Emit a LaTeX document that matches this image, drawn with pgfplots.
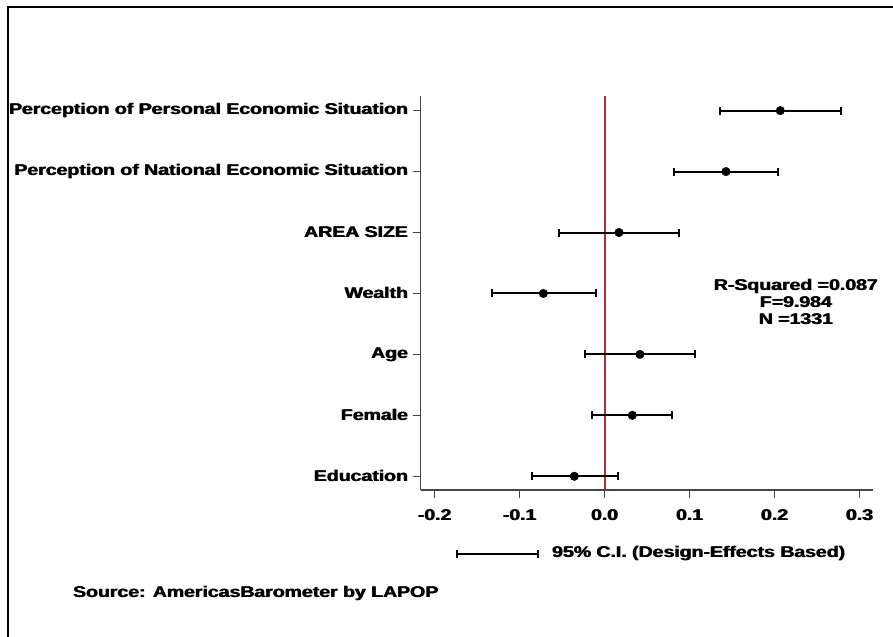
\documentclass[border=0pt]{standalone}
\usepackage{fontspec}
\setmainfont{Liberation Sans}[UprightFont={* Bold}, BoldFont={* Bold}, FakeStretch=1.26]
\usepackage{pgfplots}
\pgfplotsset{compat=1.18}
\usepackage{pgfplotstable}

\definecolor{zeroline}{RGB}{168,50,50}
\definecolor{spine}{RGB}{70,70,70}

% heavier text: the same text twice, a hair apart
\newcommand\hv[1]{\leavevmode\rlap{#1}\kern0.8bp#1}

% coefficients
\pgfplotstableread{
y  b
7  0.2066
6  0.1427
5  0.0168
4  -0.0722
3  0.0415
2  0.0325
1  -0.0357
}\coefs

% 95% CI, one segment per row, split by nan
\pgfplotstableread{
x       y
0.1357  7
0.2780  7
nan     nan
0.0811  6
0.2039  6
nan     nan
-0.0534 5
0.0870  5
nan     nan
-0.1330 4
-0.0102 4
nan     nan
-0.0228 3
0.1062  3
nan     nan
-0.0146 2
0.0796  2
nan     nan
-0.0855 1
0.0160  1
}\cis

\begin{document}
\begin{tikzpicture}[font=\fontsize{15.5}{17}\selectfont]
\useasboundingbox (-420.7bp,-147bp) rectangle (472.3bp,490bp);
% outer frame (cut by the page on the right and bottom)
\draw[line width=2bp] (-412.2bp,-160bp) -- (-412.2bp,482.5bp) -- (490bp,482.5bp);

\begin{axis}[
    at={(0,0)}, anchor=south west,
    scale only axis,
    width=452.3bp, height=394bp,
    xmin=-0.2165, xmax=0.3157,
    ymin=0.775, ymax=7.24,
    axis x line*=bottom, axis y line*=left,
    axis line style={spine, line width=1.2bp, -},
    tick align=outside,
    major tick length=8bp,
    tick style={spine, line width=1.1bp},
    xtick={-0.2,-0.1,0,0.1,0.2,0.3},
    xticklabel={\hv{\pgfmathprintnumber[fixed,fixed zerofill,precision=1]{\tick}}},
    /pgf/number format/assume math mode=true,
    ytick={1,2,3,4,5,6,7},
    yticklabels={\hv{Education},\hv{Female},\hv{Age},\hv{Wealth},\hv{AREA SIZE},
      \hv{Perception of National Economic Situation},
      \hv{Perception of Personal Economic Situation}},
    ticklabel style={font=\fontsize{15.5}{17}\selectfont},
    yticklabel style={inner sep=4bp},
    xticklabel style={inner sep=12bp},
    unbounded coords=jump,
    clip=false,
  ]
  \addplot[zeroline, line width=1.8bp] coordinates {(0,0.775) (0,7.24)};
  \addplot[black, line width=2bp, mark=|, mark size=4bp] table {\cis};
  \addplot[only marks, mark=*, mark size=4.3bp, black] table[x=b, y=y] {\coefs};
\end{axis}

% legend key
\draw[line width=2bp] (36.6bp,-64bp) -- (117.3bp,-64bp);
\draw[line width=2bp] (36.6bp,-68bp) -- (36.6bp,-60bp);
\draw[line width=2bp] (117.3bp,-68bp) -- (117.3bp,-60bp);
\node[anchor=west, inner sep=0pt] at (131bp,-64bp) {\hv{95\% C.I. (Design-Effects Based)}};

\node[align=center, inner sep=0pt] at (375.3bp,188bp)
  {\hv{R-Squared =0.087}\\\hv{F=9.984}\\\hv{N =1331}};

\node[anchor=west, inner sep=0pt] at (-348bp,-103.3bp) {\hv{Source: AmericasBarometer by LAPOP}};
\end{tikzpicture}
\end{document}
